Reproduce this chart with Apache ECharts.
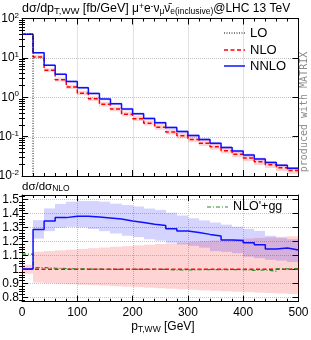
<!DOCTYPE html>
<html><head><meta charset="utf-8">
<script src="https://cdn.jsdelivr.net/npm/echarts@6/dist/echarts.min.js"></script>
<style>html,body{margin:0;padding:0;background:#fff}#c{width:311px;height:340px}</style>
</head><body><div id="c"></div>
<script>
// ---------- data ----------
const binEdges = [0,20,40,60,80,100,120,140,160,180,200,220,240,260,280,300,320,340,360,380,400,420,440,460,480,500];
// top panel: d sigma / d pT [fb/GeV] per bin
const loValues   = [40,0,0,0,0,0,0,0,0,0,0,0,0,0,0,0,0,0,0,0,0,0,0,0,0];
const nloValues  = [40,10.5,4.85,2.8,1.82,1.27,0.91,0.66,0.5,0.372,0.285,0.22,0.172,0.132,0.105,0.085,0.068,0.055,0.044,0.0356,0.0286,0.023,0.0192,0.0162,0.0137];
const nnloValues = [40,13.5,6.5,3.83,2.5,1.75,1.25,0.9,0.68,0.5,0.38,0.29,0.225,0.17,0.134,0.107,0.085,0.068,0.053,0.043,0.034,0.027,0.022,0.0187,0.0157];
// lower panel: ratios to NLO
const nloRatio    = [1,1,1,1,1,1,1,1,1,1,1,1,1,1,1,1,1,1,1,1,1,1,1,1,1];
const nloBandLo   = [0.968,0.905,0.901,0.897,0.893,0.889,0.886,0.883,0.879,0.876,0.872,0.868,0.864,0.861,0.857,0.853,0.849,0.846,0.842,0.839,0.836,0.833,0.830,0.827,0.823];
const nloBandHi   = [1.033,1.126,1.131,1.136,1.141,1.146,1.151,1.156,1.161,1.166,1.171,1.176,1.181,1.186,1.191,1.196,1.201,1.206,1.211,1.216,1.221,1.225,1.229,1.233,1.236];
const nnloRatio   = [1.003,1.285,1.345,1.37,1.38,1.38,1.374,1.367,1.36,1.346,1.335,1.323,1.313,1.29,1.275,1.263,1.25,1.238,1.21,1.207,1.19,1.175,1.145,1.152,1.138];
const nnloBandLo  = [0.995,1.22,1.273,1.297,1.304,1.30,1.288,1.273,1.256,1.24,1.23,1.215,1.205,1.19,1.178,1.168,1.155,1.13,1.125,1.115,1.09,1.08,1.068,1.062,1.052];
const nnloBandHi  = [1.01,1.352,1.436,1.468,1.484,1.489,1.489,1.484,1.47,1.46,1.45,1.435,1.425,1.405,1.385,1.365,1.35,1.335,1.32,1.305,1.29,1.275,1.24,1.225,1.215];
const nloggRatio  = [1.108,1.012,1.008,1.005,1.003,1.002,1.001,1.0,1.0,1.0,0.999,0.999,1.0,0.995,0.995,0.997,0.998,0.997,0.998,0.997,0.993,0.995,0.986,1.003,1.005];
const xTicks = [0,100,200,300,400,500];
const ratioTicks = [0.8,0.9,1,1.1,1.2,1.3,1.4,1.5];
const logTicks = [0.01,0.1,1,10,100];
const xGrid = [100,200,300,400];
const logGrid = [0.1,1,10];
const ratioGrid = [0.8,0.9,1.1,1.2,1.3,1.4,1.5];

// ---------- helpers ----------
const F = 'Liberation Sans, Arial, sans-serif';
function stepData(vals, floor){
  const d = vals.map((v,i)=>[binEdges[i], floor && v<=0 ? floor : v]);
  const last = vals[vals.length-1];
  d.push([binEdges[binEdges.length-1], floor && last<=0 ? floor : last]);
  return d;
}
function band(xi, yi, lo, hi, color, z){
  return {type:'custom', xAxisIndex:xi, yAxisIndex:yi, silent:true, z:z,
    data: lo.map((l,i)=>[binEdges[i], binEdges[i+1], l, hi[i]]),
    encode:{x:[0,1], y:[2,3]},
    renderItem:(params, api)=>{
      const a = api.coord([api.value(0), api.value(3)]);
      const b = api.coord([api.value(1), api.value(2)]);
      const x0 = Math.round(a[0]), x1 = Math.round(b[0]);
      return {type:'rect', shape:{x:x0, y:a[1], width:x1-x0, height:b[1]-a[1]}, style:{fill:color}};
    }};
}
function line(xi, yi, vals, color, type, width, z, floor){
  return {type:'line', xAxisIndex:xi, yAxisIndex:yi, step:'end', symbol:'none', z:z, silent:true,
    data: stepData(vals, floor), clip:true,
    lineStyle:{color:color, type:type, width:width}};
}
const nloTopLo = nloValues.map((v,i)=>v*nloBandLo[i]);
const nloTopHi = nloValues.map((v,i)=>v*nloBandHi[i]);
const nnloTopLo = nnloValues.map((v,i)=>v*nnloBandLo[i]/nnloRatio[i]);
const nnloTopHi = nnloValues.map((v,i)=>v*nnloBandHi[i]/nnloRatio[i]);

const minorLog = [];
[0.01,0.1,1,10].forEach(d=>{for(let k=2;k<=9;k++) minorLog.push(+(d*k).toPrecision(3));});
const minorRatio = [];
for(let v=78; v<=152; v+=2){ if(v%10!==0) minorRatio.push(v/100); }
const minorX = [];
for(let v=20; v<500; v+=20){ if(v%100!==0) minorX.push(v); }

const black = {color:'#000', width:1};

function xAx(grid, pos, labels){
  return [{gridIndex:grid, type:'value', position:pos, min:0, max:500, interval:100,
    axisLine:{show:true, onZero:false, lineStyle:black},
    axisTick:{show:true, inside:true, length:6, lineStyle:black},
    axisLabel:{show:labels, fontSize:12, fontFamily:F, color:'#000', margin:5},
    splitLine:{show:false}},
   {gridIndex:grid, type:'value', position:pos, min:0, max:500,
    axisLine:{show:false}, axisLabel:{show:false}, splitLine:{show:false},
    axisTick:{show:true, inside:true, length:3, customValues:minorX, lineStyle:black}}];
}
function yAx(grid, pos, log, majors, minors, labels, min, max, fmt){
  const t = log ? {type:'log', logBase:10} : {type:'value'};
  return [Object.assign({gridIndex:grid, position:pos, min:min, max:max,
    axisLine:{show:true, onZero:false, lineStyle:black},
    axisTick:{show:true, inside:true, length:6, customValues:majors, lineStyle:black},
    axisLabel:{show:labels, customValues:majors, fontSize:12, fontFamily:F, color:'#000', margin:3, formatter:fmt,
      rich:{b:{fontSize:12, fontFamily:F, color:'#000', lineHeight:14}, e:{fontSize:8, fontFamily:F, color:'#000', lineHeight:8, verticalAlign:'top'}}},
    splitLine:{show:false}}, t),
   Object.assign({gridIndex:grid, position:pos, min:min, max:max,
    axisLine:{show:false}, axisLabel:{show:false}, splitLine:{show:false},
    axisTick:{show:true, inside:true, length:3, customValues:minors, lineStyle:black}}, t)];
}
const logFmt = v => '{b|10}{e|' + Math.round(Math.log10(v)) + '}';
const ratFmt = v => (Math.abs(v-1)<1e-9 ? '1' : v.toFixed(1));

const xAxis = [].concat(
  xAx(0,'bottom',false), xAx(0,'top',false),
  xAx(1,'bottom',true), xAx(1,'top',false));
const yAxis = [].concat(
  yAx(0,'left',true,logTicks,minorLog,true,0.01,100,logFmt),
  yAx(0,'right',true,logTicks,minorLog,false,0.01,100,null),
  yAx(1,'left',false,ratioTicks,minorRatio,true,0.768,1.532,ratFmt),
  yAx(1,'right',false,ratioTicks,minorRatio,false,0.768,1.532,null));

const series = [
  band(0,0,nloTopLo,nloTopHi,'rgba(255,0,0,0.17)',1),
  band(0,0,nnloTopLo,nnloTopHi,'rgba(0,0,255,0.17)',1),
  line(0,0,nloValues,'#ff0000',[4,2.5],1.5,3),
  line(0,0,nnloValues,'#1010ff','solid',1.5,4),
  line(0,0,loValues,'#000',[1,1.5],1,5,1e-5),
  band(4,4,nloBandLo,nloBandHi,'rgba(255,0,0,0.17)',1),
  band(4,4,nnloBandLo,nnloBandHi,'rgba(0,0,255,0.17)',1),
  line(4,4,nloRatio,'#ff0000',[4,2.5],1.5,3),
  line(4,4,nloggRatio,'#2a8a2a',[4,2,1,2],1.2,4),
  line(4,4,nnloRatio,'#1010ff','solid',1.5,5)
];

const sub = s => ({fontSize:s, fontFamily:F, fill:'#000', lineHeight:s, verticalAlign:'bottom'});
const graphic = [
  {type:'text', x:22, y:2, style:{text:'{a|dσ/dp}{s|T,WW}{a| [fb/GeV]}', verticalAlign:'top',
    rich:{a:{fontSize:12.5, fontFamily:F, fill:'#000', lineHeight:14}, s:sub(9.5)}}},
  {type:'text', x:132, y:2, style:{text:'{a|μ}{p|+}{a|e}{p|-}{a|ν}{s|μ}{a|ν̄}{s|e(inclusive)}{a|@LHC 13 TeV}', verticalAlign:'top',
    rich:{a:{fontSize:12, fontFamily:F, fill:'#000', lineHeight:14}, s:sub(8.5), p:{fontSize:8.5, fontFamily:F, fill:'#000', lineHeight:8, verticalAlign:'top'}}}},
  {type:'text', x:22, y:180, style:{text:'{a|dσ/dσ}{s|NLO}', verticalAlign:'top',
    rich:{a:{fontSize:11.5, fontFamily:F, fill:'#000', lineHeight:13}, s:sub(8.5)}}},
  {type:'text', x:163, y:320, style:{text:'{a|p}{s|T,WW}{a| [GeV]}', align:'center', verticalAlign:'top',
    rich:{a:{fontSize:12, fontFamily:F, fill:'#000', lineHeight:14}, s:sub(8.5)}}},
  {type:'text', x:304, y:112, rotation:Math.PI/2, style:{text:'produced with MATRIX', align:'center', verticalAlign:'middle',
    fontSize:10, fontFamily:'DejaVu Sans Mono, monospace', fill:'#8a8a8a'}},
  // legends
  {type:'line', shape:{x1:224,y1:33,x2:245,y2:33}, style:{stroke:'#000', lineWidth:1, lineDash:[1,1.5]}},
  {type:'text', x:250, y:33, style:{text:'LO', fontSize:13, fontFamily:F, fill:'#000', verticalAlign:'middle'}},
  {type:'line', shape:{x1:224,y1:50,x2:245,y2:50}, style:{stroke:'#ff0000', lineWidth:1.5, lineDash:[4,2.5]}},
  {type:'text', x:250, y:50, style:{text:'NLO', fontSize:13, fontFamily:F, fill:'#000', verticalAlign:'middle'}},
  {type:'line', shape:{x1:224,y1:66,x2:245,y2:66}, style:{stroke:'#1010ff', lineWidth:1.5}},
  {type:'text', x:250, y:66, style:{text:'NNLO', fontSize:13, fontFamily:F, fill:'#000', verticalAlign:'middle'}},
  {type:'line', shape:{x1:207,y1:207,x2:228,y2:207}, style:{stroke:'#2a8a2a', lineWidth:1.2, lineDash:[4,2,1,2]}},
  {type:'text', x:233, y:207, style:{text:"NLO'+gg", fontSize:12.5, fontFamily:F, fill:'#000', verticalAlign:'middle'}}
];

const chart = echarts.init(document.getElementById('c'), null, {renderer:'canvas'});
chart.setOption({
  animation:false,
  backgroundColor:'#fff',
  grid:[
    {left:22, top:18.5, width:276.5, height:157.5, containLabel:false, outerBoundsMode:'none'},
    {left:22, top:195, width:276.5, height:106.7, containLabel:false, outerBoundsMode:'none'}
  ],
  xAxis: xAxis,
  yAxis: yAxis,
  series: series,
  graphic: graphic
});

// grid lines placed through the axes' own scales (convertToPixel), drawn under the data
const gl = [];
const gStyle = {stroke:'#c4c4c4', lineWidth:1, lineDash:[1,1]};
function px(finder, v){ return chart.convertToPixel(finder, v); }
const top0 = px({yAxisIndex:0}, 100), bot0 = px({yAxisIndex:0}, 0.01);
const top1 = px({yAxisIndex:4}, 1.532), bot1 = px({yAxisIndex:4}, 0.768);
const left = px({xAxisIndex:0}, 0), right = px({xAxisIndex:0}, 500);
xGrid.forEach(v=>{
  const x = Math.round(px({xAxisIndex:0}, v)) + 0.5;
  gl.push({type:'line', z:-1, silent:true, shape:{x1:x,y1:top0,x2:x,y2:bot0}, style:gStyle});
  gl.push({type:'line', z:-1, silent:true, shape:{x1:x,y1:top1,x2:x,y2:bot1}, style:gStyle});
});
logGrid.forEach(v=>{
  const y = Math.round(px({yAxisIndex:0}, v)) + 0.5;
  gl.push({type:'line', z:-1, silent:true, shape:{x1:left,y1:y,x2:right,y2:y}, style:gStyle});
});
ratioGrid.forEach(v=>{
  const y = Math.round(px({yAxisIndex:4}, v)) + 0.5;
  gl.push({type:'line', z:-1, silent:true, shape:{x1:left,y1:y,x2:right,y2:y}, style:gStyle});
});
chart.setOption({graphic: graphic.concat(gl)});
</script>
</body></html>
